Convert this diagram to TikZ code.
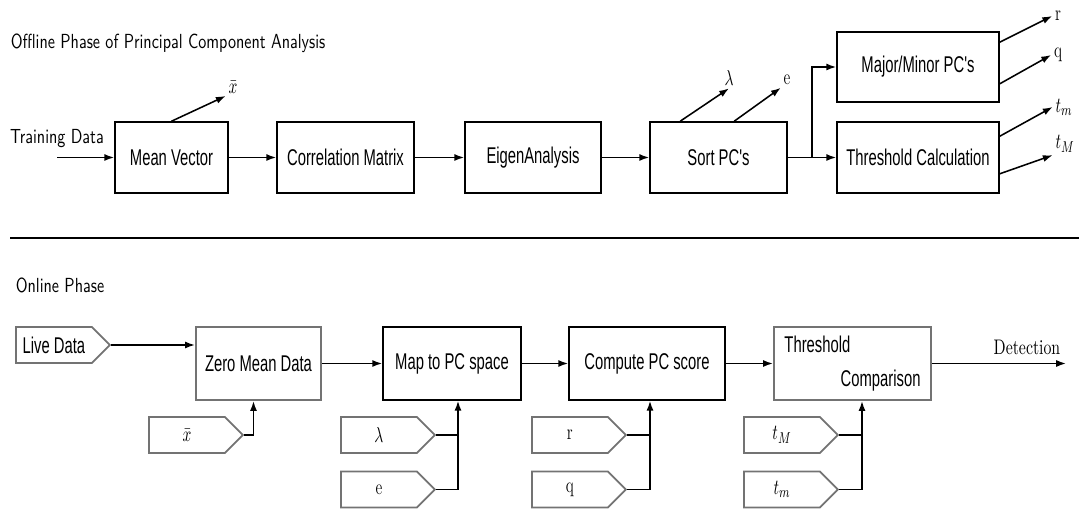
\documentclass[tikz,border=0pt]{standalone}
\usepackage{fontspec}
\usepackage{graphicx}
\usetikzlibrary{arrows.meta,shapes.symbols,calc}
\newfontfamily\boxfont[FakeStretch=0.65]{Liberation Sans}
\newfontfamily\headfont[FakeStretch=0.79,Extension=.otf]{lmsans10-regular}
\newfontfamily\detfont[FakeStretch=0.75,Extension=.otf]{lmroman10-regular}
\newcommand{\tallsym}[1]{\scalebox{1}[1.4]{#1}}

\tikzset{
  blk/.style={draw, line width=1.1pt, minimum height=1.775cm, font=\fontsize{16.2}{19}\selectfont\boxfont},
  blkgray/.style={blk, draw=black!55, line width=1.5pt, minimum height=1.825cm},
  sig/.style={signal, signal to=east, signal pointer angle=90, draw=black!55, line width=1.3pt,
    minimum height=0.9cm, minimum width=2.35cm, anchor=west, inner sep=2pt,
    font=\fontsize{16.2}{19}\selectfont\boxfont},
  sigsym/.style={sig, font=\fontsize{11}{13}\selectfont},
  sym/.style={inner sep=1.5pt, font=\fontsize{11}{13}\selectfont},
  head/.style={font=\fontsize{14.5}{17}\selectfont\headfont, inner sep=0pt},
}

\begin{document}
\begin{tikzpicture}[x=0.025cm, y=-0.025cm, line width=1.1pt, >={Latex[length=7pt,width=5pt]}]
  \useasboundingbox (0,0) rectangle (1079,510);

  % offline phase
  \node[head, anchor=west] (offtitle) at (10,43) {Offline Phase of Principal Component Analysis};
  \node[head] (train) at (57,139) {Training Data};
  \coordinate (trainin) at (57,157.5);
  \node[blk, minimum width=2.825cm] (mean) at (171.5,157.5) {Mean Vector};
  \node[blk, minimum width=3.425cm] (corr) at (345.5,157.5) {Correlation Matrix};
  \node[blk, minimum width=3.4cm] (eigen) at (533,157.5) {EigenAnalysis};
  \node[blk, minimum width=3.425cm] (sort) at (718.5,157.5) {Sort PC's};
  \node[blk, minimum width=4.05cm, minimum height=1.75cm] (major) at (918,67) {Major/Minor PC's};
  \node[blk, minimum width=4.05cm] (thcalc) at (918,157.5) {Threshold Calculation};
  \coordinate (split) at (812,157.5);

  \node[sym] (xbar) at (233,87) {\tallsym{$\bar{x}$}};
  \node[sym] (lam) at (729,78) {\tallsym{$\lambda$}};
  \node[sym] (evec) at (787,80) {\tallsym{$\mathrm{e}$}};
  \node[sym] (rout) at (1058,16) {\tallsym{$\mathrm{r}$}};
  \node[sym] (qout) at (1058,55) {\tallsym{$\mathrm{q}$}};
  \node[sym] (tmout) at (1064,107) {\tallsym{$t_m$}};
  \node[sym] (tMout) at (1065,144) {\tallsym{$t_M$}};

  \draw[->] (trainin) -- (mean);
  \draw[->] (mean) -- (corr);
  \draw[->] (corr) -- (eigen);
  \draw[->] (eigen) -- (sort);
  \draw[->] (sort) -- (thcalc);
  \draw[->] (split) |- (major.west);

  \draw[->] (mean.north) -- (xbar.south west);
  \draw[->] ($(sort.north west)+(31,0)$) -- (lam.south);
  \draw[->] ($(sort.north west)+(85,0)$) -- (evec.south west);
  \draw[->] ($(major.north east)+(0,11)$) -- (rout.west);
  \draw[->] ($(major.south east)+(0,-19)$) -- (qout.west);
  \draw[->] ($(thcalc.north east)+(0,15)$) -- (tmout.west);
  \draw[->] ($(thcalc.south east)+(0,-20)$) -- (tMout.south west);

  \draw[line width=1.3pt] (10,238) -- (1079,238);

  % online phase
  \node[head, anchor=west] (ontitle) at (15,285) {Online Phase};
  \node[sig] (live) at (15,345) {Live Data};
  \node[blkgray, minimum width=3.125cm] (zero) at (258.5,363.5) {Zero Mean Data};
  \node[blk, minimum width=3.45cm, minimum height=1.825cm] (map) at (452,363.5) {Map to PC space};
  \node[blk, minimum width=3.9cm, minimum height=1.825cm] (score) at (647,363.5) {Compute PC score};
  \node[blkgray, minimum width=3.925cm, align=left] (cmp) at (852.5,363.5) {Threshold\\[5pt]\hspace*{40pt}Comparison};
  \coordinate (detout) at (1066,363.5);
  \node[font=\fontsize{15}{17}\selectfont\detfont] (detlbl) at (1027,347) {Detection};

  \node[sigsym] (xsig) at (148,435) {\tallsym{$\bar{x}$}};
  \node[sigsym] (lsig) at (340,435) {\tallsym{$\lambda$}};
  \node[sigsym] (esig) at (340,489.5) {\tallsym{$\mathrm{e}$}};
  \node[sigsym] (rsig) at (531,435) {\tallsym{$\mathrm{r}$}};
  \node[sigsym] (qsig) at (531,489.5) {\tallsym{$\mathrm{q}$}};
  \node[sigsym] (tMsig) at (743,435) {\tallsym{$t_M$}};
  \node[sigsym] (tmsig) at (743,489.5) {\tallsym{$t_m$}};

  \coordinate (zeroin) at ($(zero.south)+(-5,0)$);
  \coordinate (mapin) at ($(map.south)+(6,0)$);
  \coordinate (scorein) at ($(score.south)+(3,0)$);
  \coordinate (cmpin) at ($(cmp.south)+(9.5,0)$);

  \draw[->] (live.east) -- (live.east -| zero.west);
  \draw[->] (zero) -- (map);
  \draw[->] (map) -- (score);
  \draw[->] (score) -- (cmp);
  \draw[->] (cmp) -- (detout);

  \draw[->] (xsig.east) -| (zeroin);
  \draw (lsig.east) -- (lsig.east -| mapin);
  \draw[->] (esig.east) -| (mapin);
  \draw (rsig.east) -- (rsig.east -| scorein);
  \draw[->] (qsig.east) -| (scorein);
  \draw (tMsig.east) -- (tMsig.east -| cmpin);
  \draw[->] (tmsig.east) -| (cmpin);
\end{tikzpicture}
\end{document}
